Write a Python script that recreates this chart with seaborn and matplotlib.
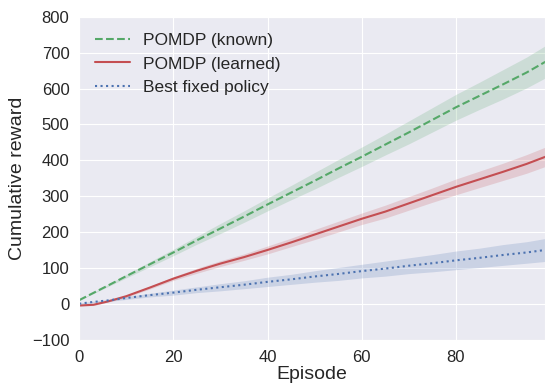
import numpy as np
import pandas as pd
import seaborn as sns
import matplotlib
matplotlib.use('Agg')
import matplotlib.pyplot as plt

# values
episodes = [0, 3, 6, 10, 15, 20, 25, 30, 35, 40, 45, 50, 55, 60, 65, 70, 75, 80, 85, 90, 95, 99]
known = [10, 30, 50, 77, 110, 143, 177, 210, 243, 277, 310, 343, 377, 410, 444, 478, 513, 548, 580, 612, 645, 675]
known_hw = [1, 2, 3, 5, 7, 9, 11, 14, 16, 18, 20, 23, 25, 27, 29, 32, 34, 36, 38, 41, 43, 45]
learned = [-5, -3, 6, 21, 45, 70, 92, 112, 130, 150, 171, 193, 215, 237, 257, 280, 303, 326, 347, 368, 390, 410]
learned_hw = [1, 2, 2, 3, 4, 5, 7, 8, 9, 11, 12, 14, 15, 16, 18, 19, 20, 22, 23, 24, 26, 27]
fixed = [0, 5, 9, 16, 24, 31, 39, 46, 53, 61, 68, 76, 83, 91, 98, 106, 113, 121, 128, 136, 143, 150]
fixed_hw = [2, 2, 3, 4, 5, 7, 8, 10, 11, 13, 14, 16, 18, 19, 21, 22, 24, 26, 27, 29, 30, 32]

sns.set_style('darkgrid')
plt.rcParams['font.family'] = ['Liberation Sans', 'DejaVu Sans']

fig, ax = plt.subplots(figsize=(5.46, 3.85), dpi=100)
fig.subplots_adjust(left=0.145, right=0.999, top=0.956, bottom=0.118)

series = [
    ('POMDP (known)', known, known_hw, '#55A868', '--'),
    ('POMDP (learned)', learned, learned_hw, '#C44E52', '-'),
    ('Best fixed policy', fixed, fixed_hw, '#4C72B0', ':'),
]

for name, vals, hw, col, ls in series:
    df = pd.DataFrame({'Episode': episodes, 'reward': vals})
    sns.lineplot(data=df, x='Episode', y='reward', ax=ax, color=col,
                 linestyle=ls, linewidth=1.5, label=name)
    lo = np.array(vals) - np.array(hw)
    hi = np.array(vals) + np.array(hw)
    ax.fill_between(episodes, lo, hi, color=col, alpha=0.2, linewidth=0)

ax.set_xlim(0, 99)
ax.set_ylim(-100, 800)
ax.set_xticks([0, 20, 40, 60, 80])
ax.set_yticks(range(-100, 801, 100))
ax.tick_params(labelsize=12)
ax.tick_params(axis='x', pad=4)
ax.set_xlabel('Episode', fontsize=14, labelpad=1)
ax.set_ylabel('Cumulative reward', fontsize=14)
ax.legend(loc='upper left', fontsize=12.5, frameon=False, handlelength=2)

fig.savefig('out.png', dpi=100)
